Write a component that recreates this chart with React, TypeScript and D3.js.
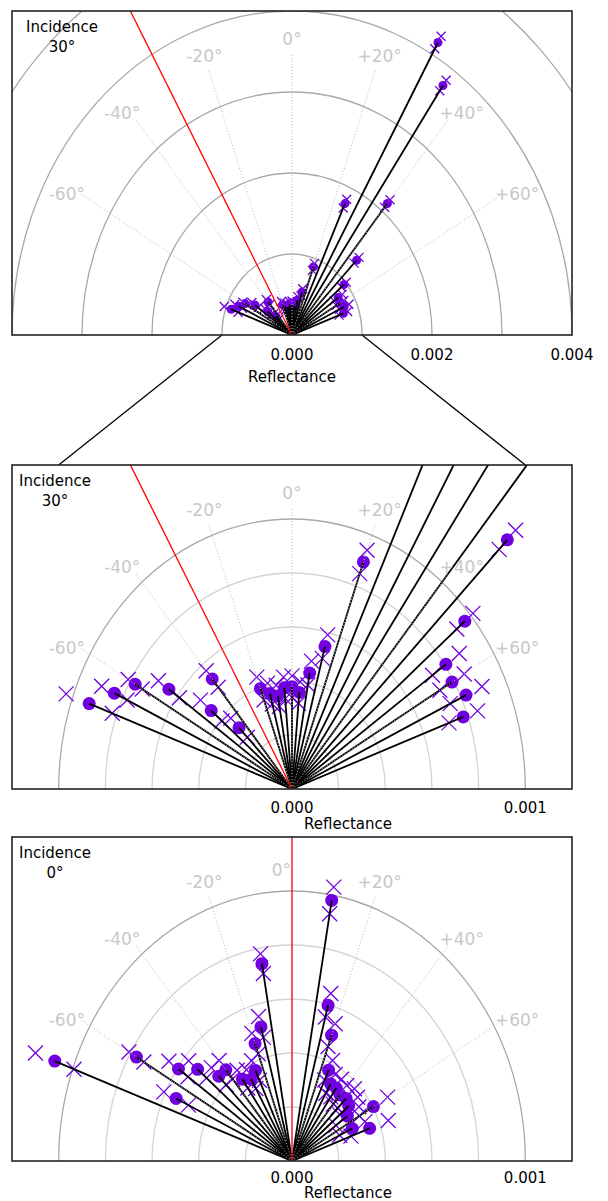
import React from 'react';
import * as d3 from 'd3';

const W = 608;
const H = 1201;
const FRAME_L = 12;
const FRAME_R = 572;
const PANEL_H = 324;
const PURPLE = '#7000e0';
const FONT = '"DejaVu Sans", Verdana, sans-serif';

// Incidence 30° : measurement angles (deg), reflectance (×1e-3), error (×1e-3)
const anglesA = [-70, -65, -60, -55, -50, -45, -40, -20, -15, -10, -5, 0, 5, 10, 15, 20, 25, 30, 35, 40, 45, 50, 55, 60, 65, 70];
const reflA = [0.925, 0.84, 0.776, 0.644, 0.452, 0.321, 0.532, 0.396, 0.366, 0.35, 0.376, 0.379, 0.359, 0.436, 0.546, 0.895, 1.79, 4.17, 3.76, 2.12, 1.305, 0.967, 0.805, 0.792, 0.823, 0.781];
const errA = [0.105, 0.06, 0.035, 0.055, 0.06, 0.05, 0.04, 0.045, 0.04, 0.04, 0.04, 0.04, 0.04, 0.045, 0.045, 0.046, 0.06, 0.09, 0.08, 0.06, 0.05, 0.045, 0.07, 0.06, 0.075, 0.065];

// Incidence 0°
const anglesB = [-70, -65, -60, -55, -50, -45, -40, -35, -30, -25, -20, -15, -10, 10, 15, 20, 25, 30, 35, 40, 45, 50, 55, 60, 65, 70];
const reflB = [1.082, 0.548, 0.77, 0.594, 0.528, 0.444, 0.441, 0.37, 0.35, 0.37, 0.463, 0.514, 0.742, 0.98, 0.597, 0.496, 0.371, 0.33, 0.33, 0.32, 0.328, 0.317, 0.29, 0.403, 0.285, 0.354];
const errB = [0.088, 0.058, 0.037, 0.05, 0.05, 0.045, 0.045, 0.04, 0.04, 0.04, 0.04, 0.04, 0.037, 0.05, 0.045, 0.045, 0.04, 0.04, 0.04, 0.045, 0.05, 0.05, 0.06, 0.07, 0.06, 0.085];

const spokeAngles = [-60, -40, -20, 0, 20, 40, 60];
const spokeLabels = ['-60°', '-40°', '-20°', '0°', '+20°', '+40°', '+60°'];

const ringsP1 = [0.001, 0.002, 0.003, 0.004, 0.005];
const minorRingsZoom = [0.0002, 0.0004, 0.0006, 0.0008];
const majorRingsZoom = [0.001];
const ticksP1 = [0, 0.002, 0.004];
const ticksZoom = [0, 0.001];

const panels = [
  { top: 11, R: 0.004, inc: 30, incLabel: '30°', angles: anglesA, refl: reflA, err: errA, major: ringsP1, minor: [] as number[], ticks: ticksP1, dotR: 4.5, xs: 4.5, tickY: 25, titleY: 47, titleX: 292, incX: 62 },
  { top: 465, R: 0.0012, inc: 30, incLabel: '30°', angles: anglesA, refl: reflA, err: errA, major: majorRingsZoom, minor: minorRingsZoom, ticks: ticksZoom, dotR: 6.5, xs: 7.5, tickY: 24, titleY: 40, titleX: 348, incX: 55 },
  { top: 837, R: 0.0012, inc: 0, incLabel: '0°', angles: anglesB, refl: reflB, err: errB, major: majorRingsZoom, minor: minorRingsZoom, ticks: ticksZoom, dotR: 6.5, xs: 7.5, tickY: 22, titleY: 37, titleX: 348, incX: 55 },
];

const fmt = d3.format('.3f');

function makeScales(p: any) {
  const bottom = p.top + PANEL_H;
  const x = d3.scaleLinear().domain([-p.R, p.R]).range([FRAME_L, FRAME_R]);
  const y = d3.scaleLinear().domain([0, p.R]).range([bottom, p.top]);
  const pt = (deg: number, r: number): [number, number] => {
    const a = (deg * Math.PI) / 180;
    return [x(r * Math.sin(a)), y(r * Math.cos(a))];
  };
  return { x, y, pt, bottom };
}

function Panel({ p, idx }: { p: any; idx: number }) {
  const { x, y, pt, bottom } = makeScales(p);
  const cx = x(0);
  const cy = y(0);
  const clipId = `frameclip${idx}`;
  const data = p.angles.map((a: number, i: number) => ({ a, r: p.refl[i] * 1e-3, e: p.err[i] * 1e-3 }));
  const redEnd = pt(-p.inc, p.R * 3);
  const xMark = (px: number, py: number, s: number, key: string) => (
    <path key={key} d={`M${px - s},${py - s}L${px + s},${py + s}M${px - s},${py + s}L${px + s},${py - s}`} stroke={PURPLE} strokeWidth={1.3} fill="none" />
  );
  return (
    <g>
      <defs>
        <clipPath id={clipId}>
          <rect x={FRAME_L} y={p.top} width={FRAME_R - FRAME_L} height={PANEL_H} />
        </clipPath>
      </defs>
      <g clipPath={`url(#${clipId})`}>
        {p.minor.map((r: number) => (
          <ellipse key={'mi' + r} cx={cx} cy={cy} rx={x(r) - cx} ry={cy - y(r)} fill="none" stroke="#d4d4d4" strokeWidth={1.3} />
        ))}
        {p.major.map((r: number) => (
          <ellipse key={'ma' + r} cx={cx} cy={cy} rx={x(r) - cx} ry={cy - y(r)} fill="none" stroke="#a8a8a8" strokeWidth={1.3} />
        ))}
        {data.map((d: any, i: number) => {
          const [ox, oy] = pt(d.a, d.r + d.e);
          const [ix, iy] = pt(d.a, d.r - d.e);
          return (
            <g key={'x' + i}>
              {xMark(ox, oy, p.xs, 'o')}
              {xMark(ix, iy, p.xs, 'i')}
            </g>
          );
        })}
        {data.map((d: any, i: number) => {
          const [px, py] = pt(d.a, d.r);
          return <circle key={'c' + i} cx={px} cy={py} r={p.dotR} fill={PURPLE} />;
        })}
        {data.map((d: any, i: number) => {
          const [px, py] = pt(d.a, d.r);
          return <line key={'l' + i} x1={cx} y1={cy} x2={px} y2={py} stroke="#000" strokeWidth={1.8} />;
        })}
        {spokeAngles.map((a) => {
          const [ex, ey] = pt(a, p.R * 0.87);
          return <line key={'s' + a} x1={cx} y1={cy} x2={ex} y2={ey} stroke="#bcbcbc" strokeWidth={1} strokeDasharray="1,2" />;
        })}
        <line x1={cx} y1={cy} x2={redEnd[0]} y2={redEnd[1]} stroke="#ff0000" strokeWidth={1.3} />
      </g>
      {spokeAngles.map((a, i) => {
        const la = Math.abs(a) >= 40 ? a + Math.sign(a) * 1.5 : a;
        const [lx, ly] = pt(la, p.R * 0.915);
        const shiftZero = a === 0 && p.inc === 0;
        return (
          <text key={'t' + a} x={shiftZero ? cx - 1 : lx} y={shiftZero ? p.top + 33 : ly} fill="#c8c8c8" fontSize={17} fontFamily={FONT} textAnchor={shiftZero ? 'end' : 'middle'} dominantBaseline="central">
            {spokeLabels[i]}
          </text>
        );
      })}
      <rect x={FRAME_L} y={p.top} width={FRAME_R - FRAME_L} height={PANEL_H} fill="none" stroke="#222" strokeWidth={1.6} />
      <text x={p.incX} y={p.top + 21} fontSize={15} fontFamily={FONT} textAnchor="middle" fill="#000">Incidence</text>
      <text x={p.incX} y={p.top + 41} fontSize={15} fontFamily={FONT} textAnchor="middle" fill="#000">{p.incLabel}</text>
      {p.ticks.map((t: number) => (
        <text key={'tk' + t} x={x(t)} y={bottom + p.tickY} fontSize={15} fontFamily={FONT} textAnchor="middle" fill="#000">{fmt(t)}</text>
      ))}
      <text x={p.titleX} y={bottom + p.titleY} fontSize={15} fontFamily={FONT} textAnchor="middle" fill="#000">Reflectance</text>
    </g>
  );
}

export default function App() {
  const s1 = makeScales(panels[0]);
  const s2 = makeScales(panels[1]);
  const zoomEdge = 0.001;
  return (
    <svg width={W} height={H} style={{ position: 'absolute', left: 0, top: 0, background: '#fff' }}>
      <rect x={0} y={0} width={W} height={H} fill="#fff" />
      <line x1={s1.x(-zoomEdge)} y1={s1.bottom} x2={s2.x(-zoomEdge)} y2={panels[1].top} stroke="#000" strokeWidth={1.3} />
      <line x1={s1.x(zoomEdge)} y1={s1.bottom} x2={s2.x(zoomEdge)} y2={panels[1].top} stroke="#000" strokeWidth={1.3} />
      {panels.map((p, i) => (
        <Panel key={i} p={p} idx={i} />
      ))}
    </svg>
  );
}
